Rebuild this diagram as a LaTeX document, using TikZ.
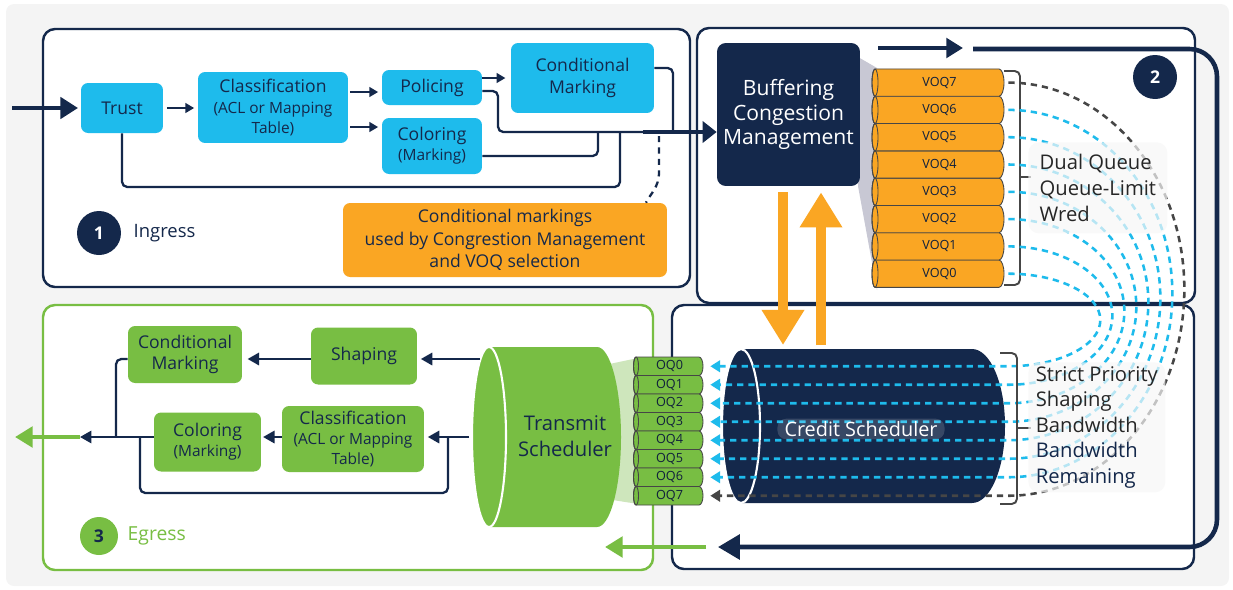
\documentclass[tikz,border=0pt]{standalone}
\usepackage{fontspec}
\setmainfont{Open Sans}
\usepackage{tikz}
\usetikzlibrary{arrows.meta, positioning, calc}
\definecolor{navy}{RGB}{20,40,75}
\definecolor{sky}{RGB}{30,187,236}
\definecolor{amber}{RGB}{250,166,35}
\definecolor{leaf}{RGB}{120,190,67}
\definecolor{leaflight}{RGB}{206,230,188}
\definecolor{canvas}{RGB}{244,244,244}
\definecolor{haze}{RGB}{200,200,212}
\definecolor{slate}{RGB}{70,70,70}
\newcommand\subtxt[1]{{\fontsize{8.8}{10.8}\selectfont #1}}

\begin{document}
\begin{tikzpicture}[x=0.02cm, y=-0.02cm,
    inbox/.style={rectangle, rounded corners=4pt, fill=sky, text=navy, inner sep=0pt, align=center, font=\fontsize{10}{11.5}\selectfont},
    egbox/.style={rectangle, rounded corners=4pt, fill=leaf, text=navy, inner sep=0pt, align=center, font=\fontsize{10}{11.5}\selectfont},
    panel/.style={draw=navy, line width=1.4pt, fill=white, rounded corners=0.24cm},
    wire/.style={draw=navy, line width=1.3pt, rounded corners=3pt},
    flow/.style={wire, -{Triangle[length=5pt,width=5.5pt]}},
    egflow/.style={wire, -{Triangle[length=6.5pt,width=7pt]}},
    queue/.style={draw=slate, line width=0.5pt},
    qlabel/.style={font=\fontsize{7.2}{8}\selectfont, text=navy!80!black, inner sep=0pt},
    spray/.style={dash pattern=on 3.6pt off 2.8pt, line width=1.45pt, -{Triangle[length=5.5pt,width=6.5pt]}},
    badge/.style={circle, fill=navy, text=white, minimum size=0.88cm, inner sep=0pt, font=\bfseries\fontsize{10}{12}\selectfont},
    legend/.style={rectangle, rounded corners=6pt, fill=white!97!black, fill opacity=0.7, text opacity=1, align=left, inner sep=0pt, anchor=north west, text=black!85, font=\fontsize{11.5}{14.6}\selectfont},
    brace/.style={draw=slate, line width=1.1pt, rounded corners=3pt},
    bigflow/.style={navy, line width=2.4pt}
]
    \useasboundingbox (0,0) rectangle (1233,589);
    \fill[canvas, rounded corners=0.16cm] (6,4) rectangle (1229,586);

    \draw[panel, draw=leaf] (43,305) rectangle (653,570);
    \draw[panel] (672,305) rectangle (1194,569);
    \draw[panel] (697,28) rectangle (1195,303);
    \draw[panel] (43,29) rectangle (690,287);

    \node[inbox, minimum width=1.64cm, minimum height=1cm] (trust) at (122,108) {Trust};
    \node[inbox, minimum width=3cm, minimum height=1.42cm] (classin) at (273,107.5) {Classification\\\subtxt{(ACL or Mapping}\\\subtxt{Table)}};
    \node[inbox, minimum width=2cm, minimum height=0.7cm] (police) at (432,87.5) {Policing};
    \node[inbox, minimum width=2cm, minimum height=1.12cm] (colorin) at (432,146) {Coloring\\\subtxt{(Marking)}};
    \node[inbox, minimum width=2.86cm, minimum height=1.4cm, font=\fontsize{10}{12.4}\selectfont] (condin) at (582.5,78) {Conditional\\Marking};
    \node[rectangle, rounded corners=4pt, fill=amber, text=navy, minimum width=6.48cm, minimum height=1.48cm, align=center, font=\fontsize{10}{12.8}\selectfont] (note) at (505,240) {Conditional markings\\used by Congrestion Management\\and VOQ selection};

    \fill[haze] (858,57) -- (877,68) -- (877,290) -- (858,186) -- cycle;
    \node[rectangle, rounded corners=5pt, fill=navy, text=white, minimum width=2.86cm, minimum height=2.86cm, align=center, font=\fontsize{12}{14.2}\selectfont] (buffer) at (788.5,114.5) {Buffering\\Congestion\\Management};

    \coordinate (inport) at (12,108);
    \coordinate (merge) at (643,132);
    \draw[bigflow, -{Triangle[length=10pt,width=12pt]}, shorten >=1.5pt] (inport) -- (trust.west);
    \draw[flow, shorten <=2pt, shorten >=2pt] (trust) -- (classin.west |- trust);
    \draw[flow, shorten <=1pt, shorten >=2pt] (classin.east |- 0,92) -- (police.west |- 0,92);
    \draw[flow, shorten <=1pt, shorten >=2pt] (classin.east |- 0,127) -- (colorin.west |- 0,127);
    \draw[flow, shorten >=3pt] (police.east |- 0,78) -- (condin.west |- 0,78);
    \draw[wire] (police.east |- 0,91) -- (498,91) -- (498,132) -- (merge);
    \draw[wire] (colorin.east |- 0,156) -- (598,156) -- (598,132);
    \draw[wire] (trust.south) -- (122,187) -- (620,187) -- (620,132);
    \draw[wire] (condin.east |- 0,68) -- (673,68) -- (673,132);
    \draw[bigflow, -{Triangle[length=8pt,width=12pt]}] (merge) -- (buffer.west |- merge);
    \draw[navy, line width=1.3pt, dash pattern=on 3.5pt off 3pt] (659,136) -- (659,172) .. controls (659,188) and (650,194) .. (note.north -| 646,0);

    \node[badge] (badgein) at (99,233) {1};
    \node[right=0.24cm of badgein, inner sep=0pt, text=navy, font=\fontsize{10.5}{12}\selectfont] (ingress) {Ingress};

    \foreach \k in {0,...,7} {
        \pgfmathsetmacro\yc{273.7-27.3*\k}
        \pgfmathsetmacro\yt{\yc-13.65}
        \pgfmathsetmacro\yb{\yc+13.65}
        \filldraw[queue, fill=amber] (875,\yt) -- (999,\yt) arc[start angle=-90, end angle=90, x radius=5, y radius=13.65] -- (875,\yb) arc[start angle=90, end angle=270, x radius=3, y radius=13.65] -- cycle;
        \draw[queue] (875,\yc) ellipse[x radius=3, y radius=13.65];
        \node[qlabel, minimum width=2.58cm] (voq\k) at (939.5,\yc) {VOQ\k};
    }
    \draw[brace] (1004,71) -- (1020,71) -- (1020,285) -- (1004,285);
    \draw[brace] (1020,177) -- (1031,177);
    \node[badge] (badgebuf) at (1155,77) {2};

    \fill[leaflight] (600,366) -- (638,358) -- (638,504) -- (600,498) -- cycle;
    \fill[leaf] (489,347) -- (597,347) arc[start angle=-90, end angle=90, x radius=24, y radius=90] -- (489,527) arc[start angle=90, end angle=270, x radius=17, y radius=90] -- cycle;
    \draw[white, line width=1.2pt, fill=leaf] (489,437) ellipse[x radius=17, y radius=90];
    \node[text=navy, align=center, font=\fontsize{11.5}{14.6}\selectfont] (tsched) at (565,436) {Transmit\\Scheduler};

    \foreach \k in {0,...,7} {
        \pgfmathsetmacro\yc{366.25+18.5*\k}
        \pgfmathsetmacro\yt{\yc-9.25}
        \pgfmathsetmacro\yb{\yc+9.25}
        \filldraw[queue, fill=leaf] (636,\yt) -- (699,\yt) arc[start angle=-90, end angle=90, x radius=4, y radius=9.25] -- (636,\yb) arc[start angle=90, end angle=270, x radius=2.5, y radius=9.25] -- cycle;
        \draw[queue] (636,\yc) ellipse[x radius=2.5, y radius=9.25];
        \node[qlabel, minimum width=1.34cm] (oq\k) at (669.5,\yc) {OQ\k};
    }

    \fill[navy] (741,349) -- (972,349) arc[start angle=-90, end angle=90, x radius=33, y radius=77] -- (741,503) arc[start angle=90, end angle=270, x radius=19, y radius=77] -- cycle;
    \draw[white, line width=1.2pt] (741,426) ellipse[x radius=19, y radius=77];

    \foreach \k in {0,...,7} {
        \pgfmathsetmacro\yv{273.7-27.3*\k}
        \pgfmathsetmacro\yo{366.25+18.5*\k}
        \pgfmathsetmacro\ry{(\yo-\yv)/2}
        \pgfmathsetmacro\rx{92+12*\k}
        \ifnum\k=7 \def\hue{slate}\else \def\hue{sky}\fi
        \draw[spray, \hue] ([xshift=0.08cm]voq\k.east) arc[start angle=-90, end angle=90, x radius=\rx, y radius=\ry] -- ([xshift=0.14cm]oq\k.east);
    }
    \node[rectangle, rounded corners=5pt, fill=white, fill opacity=0.15, text opacity=1, text=white, inner xsep=4pt, inner ysep=1.5pt, font=\fontsize{11.3}{13}\selectfont] (credit) at (861,429) {Credit Scheduler};

    \draw[brace] (1000,353) -- (1017,353) -- (1017,504) -- (1000,504);
    \draw[brace] (1017,428) -- (1031,428);
    \node[legend, minimum width=2.78cm, minimum height=1.82cm] (queuing) at (1028,142) {Dual Queue\\Queue-Limit\\Wred};
    \node[legend, minimum width=2.74cm, minimum height=2.6cm] (policy) at (1028,362) {Strict Priority\\Shaping\\Bandwidth\\\textcolor{navy}{Bandwidth}\\\textcolor{navy}{Remaining}};

    \draw[amber, line width=5.5pt, -{Triangle[length=20pt,width=23pt]}, shorten <=0.12cm] (buffer.south -| 783,0) -- (783,345);
    \draw[amber, line width=5.5pt, -{Triangle[length=20pt,width=23pt]}, shorten >=0.12cm] (821,345) -- (buffer.south -| 821,0);

    \coordinate (loopa) at (878,48);
    \coordinate (loopb) at (963,48);
    \coordinate (loopc) at (973,49);
    \coordinate (loopd) at (718,547);
    \coordinate (handoff) at (706,547);
    \coordinate (handend) at (605,547);
    \draw[bigflow, -{Triangle[length=9.5pt,width=11pt]}] (loopa) -- (loopb);
    \draw[bigflow, line width=2.6pt, rounded corners=0.55cm, -{Triangle[length=12.5pt,width=14pt]}] (loopc) -- (1217,49) -- (1217,547) -- (loopd);
    \draw[leaf, line width=2.8pt, -{Triangle[length=10pt,width=11.5pt]}] (handoff) -- (handend);

    \node[egbox, minimum width=2.28cm, minimum height=1.14cm, font=\fontsize{10}{12.4}\selectfont] (condeg) at (185,354.5) {Conditional\\Marking};
    \node[egbox, minimum width=2.12cm, minimum height=1.14cm] (shapeeg) at (364,356) {Shaping};
    \node[egbox, minimum width=2.14cm, minimum height=1.18cm] (coloreg) at (207.5,442) {Coloring\\\subtxt{(Marking)}};
    \node[egbox, minimum width=2.84cm, minimum height=1.32cm] (classeg) at (353,439) {Classification\\\subtxt{(ACL or Mapping}\\\subtxt{Table)}};

    \coordinate (txhigh) at (480,359);
    \coordinate (txlow) at (469,437);
    \coordinate (egout) at (80,437);
    \draw[egflow, shorten >=2pt] (txhigh) -- (shapeeg.east |- txhigh);
    \draw[egflow, shorten >=3pt] (shapeeg.west |- txhigh) -- (condeg.east |- txhigh);
    \draw[egflow, shorten >=2pt] (txlow) -- (classeg.east |- txlow);
    \draw[wire] (448,437) -- (448,493) -- (140,493) -- (140,437);
    \draw[egflow, shorten >=1pt] (classeg.west |- txlow) -- (coloreg.east |- txlow);
    \draw[egflow] (coloreg.west |- txlow) -- (egout);
    \draw[wire] (condeg.west |- txhigh) -- (116,359) -- (116,437);
    \draw[leaf, line width=2.8pt, -{Triangle[length=10pt,width=11.5pt]}] (egout) -- (15,437);

    \node[badge, fill=leaf, text=navy, minimum size=0.76cm] (badgeeg) at (99,536) {3};
    \node[right=0.18cm of badgeeg, inner sep=0pt, text=leaf, font=\fontsize{11}{13}\selectfont] (egress) {Egress};
\end{tikzpicture}
\end{document}
